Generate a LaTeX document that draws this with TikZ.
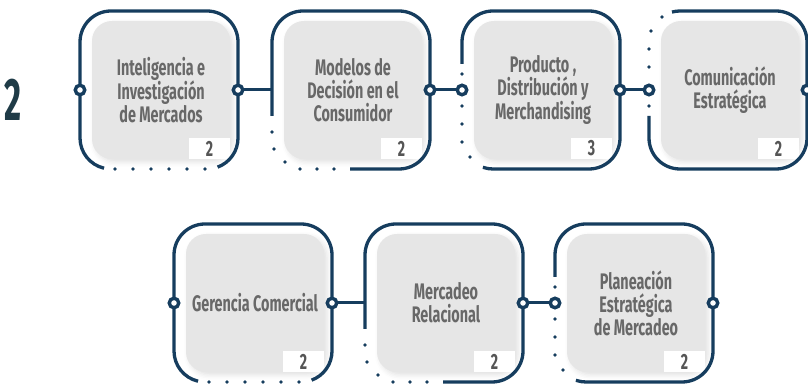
\documentclass[tikz,border=0pt]{standalone}
\usepackage{fontspec}
\usetikzlibrary{shadows.blur}
\setmainfont{Fira Sans}[FakeStretch=0.64]
\newfontfamily\levelfont{Fira Sans}[FakeStretch=0.55]
\definecolor{navy}{HTML}{163D5E}
\definecolor{slate}{HTML}{1F3B47}
\definecolor{boxgray}{HTML}{E6E6E6}
\definecolor{txtgray}{HTML}{686868}
\definecolor{numgray}{HTML}{555555}

\begin{document}
\begin{tikzpicture}[x=1pt, y=1pt,
  card/.style = {fill=boxgray, rounded corners=20pt, minimum width=138pt, minimum height=138pt, inner sep=0pt, align=center, text=txtgray, font=\bfseries\fontsize{22.5}{23}\selectfont, blur shadow={shadow xshift=3pt, shadow yshift=-3pt, shadow opacity=12, shadow blur radius=5pt}},
  numbox/.style = {fill=white, minimum width=41pt, minimum height=21pt, inner sep=0pt, text=numgray, font=\bfseries\fontsize{22}{22}\selectfont},
  frame/.style = {draw=navy, line width=3.3pt},
  dot/.style = {fill=navy},
  port/.style = {circle, draw=navy, fill=white, line width=3.4pt, minimum size=9.5pt, inner sep=0pt},
  link/.style = {draw=navy, line width=3pt}]
\useasboundingbox (0,0) rectangle (808,390);

% level number
\node[text=slate, font=\levelfont\bfseries\fontsize{60}{60}\selectfont] (level) at (13,290) {2};

% cards
\node[card] (intel) at (161,300) {Inteligencia e\\Investigación\\de Mercados};
\node[card] (model) at (353,300) {Modelos de\\Decisión en el\\Consumidor};
\node[card] (prod) at (543,300) {Producto ,\\Distribución y\\Merchandising};
\node[card] (com) at (730,300) {Comunicación\\Estratégica};
\node[card] (ger) at (255,87) {Gerencia Comercial};
\node[card] (rel) at (446,87) {Mercadeo\\Relacional};
\node[card] (plan) at (636,87) {Planeación\\Estratégica\\de Mercadeo};

\node[numbox, anchor=south east] (intel-num) at (intel.south east) {2};
\node[numbox, anchor=south east] (model-num) at (model.south east) {2};
\node[numbox, anchor=south east] (prod-num) at (prod.south east) {3};
\node[numbox, anchor=south east] (com-num) at (com.south east) {2};
\node[numbox, anchor=south east] (ger-num) at (ger.south east) {2};
\node[numbox, anchor=south east] (rel-num) at (rel.south east) {2};
\node[numbox, anchor=south east] (plan-num) at (plan.south east) {2};

% frames open at the bottom
\foreach \sx/\sy in {80/221, 174/8}{
  \draw[frame, shift={(\sx,\sy)}] ([shift={(257:31)}]31,31) arc[start angle=257, end angle=180, radius=31] -- (0,127) arc[start angle=180, end angle=90, radius=31] -- (127,158) arc[start angle=90, end angle=0, radius=31] -- (158,31) arc[start angle=0, end angle=-70, radius=31];
  \foreach \d in {35,53,...,125}
    \fill[dot, shift={(\sx,\sy)}] (\d,0) circle[radius=1.8];
}
% frames open at the lower left corner
\foreach \sx/\sy in {272/221, 365/8}{
  \draw[frame, shift={(\sx,\sy)}] (78,0) -- (127,0) arc[start angle=-90, end angle=0, radius=31] -- (158,127) arc[start angle=0, end angle=90, radius=31] -- (31,158) arc[start angle=90, end angle=180, radius=31] -- (0,53);
  \foreach \px/\py in {0/37, 2/20, 13/7, 28/0, 45/0, 62/0}
    \fill[dot, shift={(\sx,\sy)}] (\px,\py) circle[radius=1.8];
}
% frames open on the left side
\foreach \sx/\sy in {462/221, 555/8}{
  \draw[frame, shift={(\sx,\sy)}] ([shift={(251:31)}]31,31) arc[start angle=251, end angle=270, radius=31] -- (127,0) arc[start angle=-90, end angle=0, radius=31] -- (158,127) arc[start angle=0, end angle=90, radius=31] -- (31,158) arc[start angle=90, end angle=180, radius=31] -- (0,105);
  \foreach \px/\py in {0/95, 0/63, 0/45, 0/27, 8/12}
    \fill[dot, shift={(\sx,\sy)}] (\px,\py) circle[radius=1.8];
}
% frame open at the upper left
\draw[frame, shift={(649,221)}] (0,53) -- (0,31) arc[start angle=180, end angle=270, radius=31] -- (127,0) arc[start angle=-90, end angle=0, radius=31] -- (158,127) arc[start angle=0, end angle=90, radius=31] -- (31,158) arc[start angle=90, end angle=105, radius=31];
\foreach \px/\py in {13/152, 2/138, 0/120, 0/102, 0/63}
  \fill[dot, shift={(649,221)}] (\px,\py) circle[radius=1.8];

% ports
\node[port] (intel-in) at (80,300) {};
\node[port] (intel-out) at (238,300) {};
\coordinate (model-in) at (272,300);
\node[port] (model-out) at (430,300) {};
\node[port] (prod-in) at (462,300) {};
\node[port] (prod-out) at (620,300) {};
\node[port] (com-in) at (649,300) {};
\node[port] (com-out) at (807,300) {};
\node[port] (ger-in) at (174,87) {};
\node[port] (ger-out) at (332,87) {};
\coordinate (rel-in) at (365,87);
\node[port] (rel-out) at (523,87) {};
\node[port] (plan-in) at (555,87) {};
\node[port] (plan-out) at (713,87) {};

% links
\draw[link] (intel-out) -- (model-in);
\draw[link] (model-out) -- (prod-in);
\draw[link] (prod-out) -- (com-in);
\draw[link] (ger-out) -- (rel-in);
\draw[link] (rel-out) -- (plan-in);
\end{tikzpicture}
\end{document}
